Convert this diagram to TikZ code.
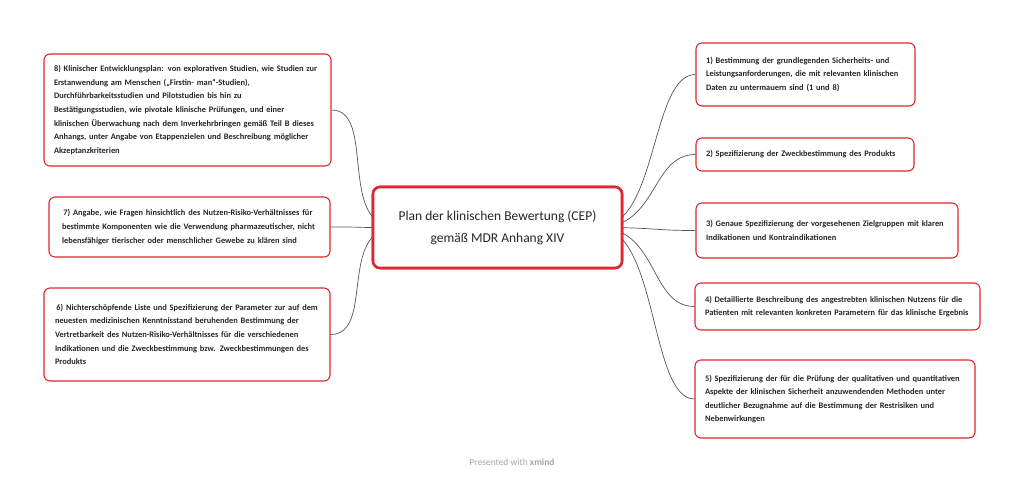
\documentclass[tikz,border=0pt]{standalone}
\usepackage{fontspec}
\setmainfont{Carlito}
\definecolor{bred}{HTML}{E0262E}
\definecolor{lgray}{HTML}{555555}
\begin{document}
\begin{tikzpicture}[x=1pt,y=-1pt,
 box/.style={draw=bred,line width=1.1pt,rounded corners=6pt,fill=white,align=left,font=\fontsize{8.4}{13.6}\selectfont\bfseries,text=black!85,inner sep=0pt,anchor=center},
 con/.style={draw=lgray,line width=0.7pt}]
\useasboundingbox (0,0) rectangle (1024,483);
\node[draw=bred,line width=2.6pt,rounded corners=7pt,minimum width=249pt,minimum height=81pt,align=center,font=\fontsize{13.5}{22}\selectfont,text=black!85] (c) at (497.5,227.5) {Plan der klinischen Bewertung (CEP)\\gemäß MDR Anhang XIV};
\node[box,minimum width=287pt,minimum height=112pt,text width=267pt] (b8) at (187.5,110) {8) Klinischer Entwicklungsplan: von explorativen Studien, wie Studien zur\\Erstanwendung am Menschen („Firstin- man“-Studien),\\Durchführbarkeitsstudien und Pilotstudien bis hin zu\\Bestätigungsstudien, wie pivotale klinische Prüfungen, und einer\\klinischen Überwachung nach dem Inverkehrbringen gemäß Teil B dieses\\Anhangs, unter Angabe von Etappenzielen und Beschreibung möglicher\\Akzeptanzkriterien};
\node[box,minimum width=281pt,minimum height=60pt,text width=255pt] (b7) at (189.5,227) {\,7) Angabe, wie Fragen hinsichtlich des Nutzen-Risiko-Verhältnisses für\\bestimmte Komponenten wie die Verwendung pharmazeutischer, nicht\\lebensfähiger tierischer oder menschlicher Gewebe zu klären sind};
\node[box,minimum width=286pt,minimum height=93pt,text width=264pt] (b6) at (187,334.5) {\,6) Nichterschöpfende Liste und Spezifizierung der Parameter zur auf dem\\neuesten medizinischen Kenntnisstand beruhenden Bestimmung der\\Vertretbarkeit des Nutzen-Risiko-Verhältnisses für die verschiedenen\\Indikationen und die Zweckbestimmung bzw. Zweckbestimmungen des\\Produkts};
\node[box,minimum width=219pt,minimum height=63pt,text width=199pt] (b1) at (805.5,74.5) {1) Bestimmung der grundlegenden Sicherheits- und\\Leistungsanforderungen, die mit relevanten klinischen\\Daten zu untermauern sind (1 und 8)};
\node[box,minimum width=218pt,minimum height=33pt,text width=198pt] (b2) at (805,154.5) {2) Spezifizierung der Zweckbestimmung des Produkts};
\node[box,minimum width=262pt,minimum height=55pt,text width=242pt] (b3) at (827,230.5) {3) Genaue Spezifizierung der vorgesehenen Zielgruppen mit klaren\\Indikationen und Kontraindikationen};
\node[box,minimum width=285pt,minimum height=47pt,text width=265pt] (b4) at (837.5,306.5) {4) Detaillierte Beschreibung des angestrebten klinischen Nutzens für die\\Patienten mit relevanten konkreten Parametern für das klinische Ergebnis};
\node[box,minimum width=280pt,minimum height=78pt,text width=260pt] (b5) at (835,399) {5) Spezifizierung der für die Prüfung der qualitativen und quantitativen\\Aspekte der klinischen Sicherheit anzuwendenden Methoden unter\\deutlicher Bezugnahme auf die Bestimmung der Restrisiken und\\Nebenwirkungen};
\foreach \b in {b1,b2,b3,b4,b5}{
 \draw[con] ([xshift=-25pt]c.east) .. controls +(60,0) and +(-45,0) .. (\b.west);}
\foreach \b in {b6,b7,b8}{
 \draw[con] ([xshift=25pt]c.west) .. controls +(-60,0) and +(45,0) .. (\b.east);}
\node[draw=bred,line width=2.6pt,rounded corners=7pt,minimum width=249pt,minimum height=81pt,align=center,font=\fontsize{13.5}{22}\selectfont,text=black!85,fill=white] at (c) {Plan der klinischen Bewertung (CEP)\\gemäß MDR Anhang XIV};
\node[font=\fontsize{9.5}{11}\selectfont,text=black!35] (ft) at (512,462) {Presented with \textbf{xmind}};
\end{tikzpicture}
\end{document}
